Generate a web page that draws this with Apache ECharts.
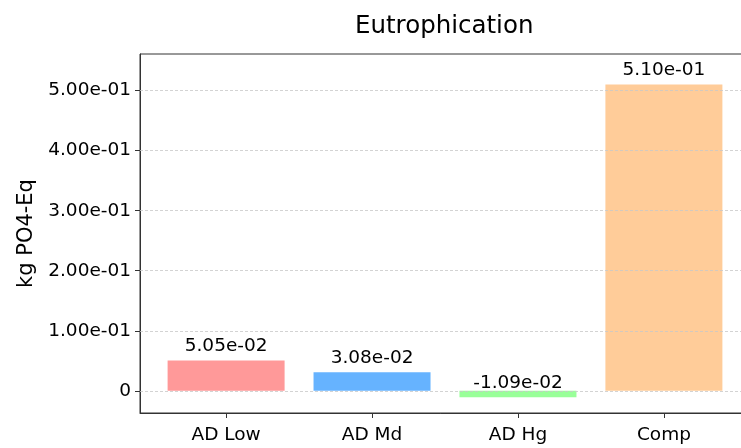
<!DOCTYPE html>
<html>
<head>
<meta charset="utf-8">
<script src="https://cdn.jsdelivr.net/npm/echarts@6/dist/echarts.min.js"></script>
<style>html,body{margin:0;padding:0;background:#fff}#c{width:741px;height:448px}</style>
</head>
<body>
<div id="c"></div>
<script>
const categories = ["AD Low", "AD Md", "AD Hg", "Comp"];
const values = [0.0505, 0.0308, -0.0109, 0.510];
const colors = ["#ff9999", "#66b3ff", "#99ff99", "#ffcc99"];
const yTicks = [0, 0.1, 0.2, 0.3, 0.4, 0.5];
const title = "Eutrophication";
const yName = "kg PO4-Eq";

function sci(v) {
  if (Math.abs(v) < 1e-12) return "0";
  const s = v.toExponential(2);
  const [m, e] = s.split("e");
  const n = parseInt(e, 10);
  const sign = n < 0 ? "-" : "+";
  const a = Math.abs(n);
  return m + "e" + sign + (a < 10 ? "0" + a : "" + a);
}

const yMax = Math.max(...values) * 1.1;
const yMinData = Math.min(0, ...values);
const yMaxData = Math.max(0, ...values);
const yMin = yMinData - 0.05 * (yMaxData - yMinData);
const labelOffset = 0.025 * Math.max(...values);
const FONT = "DejaVu Sans";

const chart = echarts.init(document.getElementById("c"), null, {renderer: "canvas"});
chart.setOption({
  animation: false,
  backgroundColor: "#ffffff",
  title: {
    text: title, left: 350, top: 9,
    textStyle: {fontFamily: FONT, fontSize: 24.5, fontWeight: "normal", color: "#000"}
  },
  grid: {left: 140, width: 610, top: 54, bottom: 35, outerBoundsMode: "none", containLabel: false, show: true, borderColor: "#333", borderWidth: 1, backgroundColor: "transparent"},
  xAxis: {
    type: "value", min: -0.59, max: 3.59,
    axisLine: {show: true, onZero: false, lineStyle: {color: "#333", width: 1}},
    axisTick: {show: true, customValues: [0, 1, 2, 3], length: 5, lineStyle: {color: "#333"}},
    axisLabel: {customValues: [0, 1, 2, 3], formatter: v => categories[Math.round(v)], fontFamily: FONT, fontSize: 18.5, color: "#000", margin: 13},
    splitLine: {show: false}
  },
  yAxis: {
    type: "value", min: yMin, max: yMax,
    name: yName, nameLocation: "middle", nameGap: 103,
    nameTextStyle: {fontFamily: FONT, fontSize: 21, color: "#000"},
    axisLine: {show: true, onZero: false, lineStyle: {color: "#333", width: 1}},
    axisTick: {show: true, customValues: yTicks, length: 5, lineStyle: {color: "#333"}},
    axisLabel: {customValues: yTicks, formatter: v => sci(v), fontFamily: FONT, fontSize: 18.5, color: "#000", margin: 9},
    splitLine: {show: false}
  },
  series: [
    {
      type: "bar", barWidth: 117,
      data: values.map((v, i) => ({value: [i, v], itemStyle: {color: colors[i]}})),
      markLine: {
        silent: true, symbol: "none", label: {show: false},
        lineStyle: {type: [3, 2], color: "#c8c8c8", width: 0.8},
        data: yTicks.map(t => ({yAxis: t}))
      },
      z: 3
    },
    {
      type: "scatter", symbolSize: 0,
      itemStyle: {opacity: 1},
      data: values.map((v, i) => [i, v + labelOffset]),
      label: {show: true, position: "top", distance: -3, formatter: p => sci(values[p.dataIndex]), fontFamily: FONT, fontSize: 18.5, color: "#000", textBorderWidth: 0},
      emphasis: {disabled: true},
      z: 5
    }
  ]
});
</script>
</body>
</html>
